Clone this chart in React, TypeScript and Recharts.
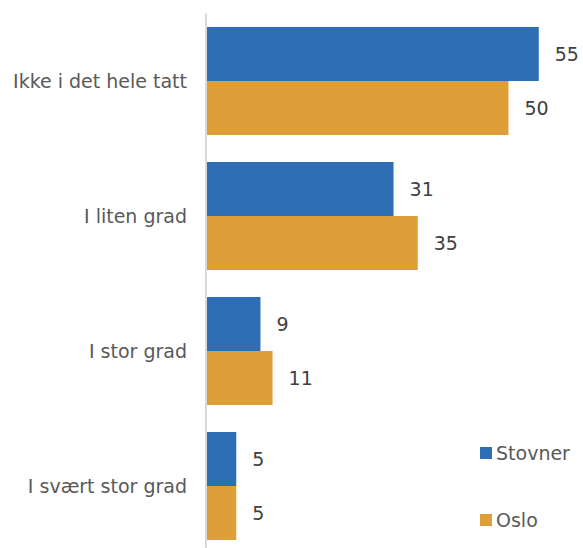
import { Bar, BarChart, LabelList, XAxis, YAxis } from "recharts";

const categories = [
  "Ikke i det hele tatt",
  "I liten grad",
  "I stor grad",
  "I svært stor grad",
];
const stovner = [55, 31, 9, 5];
const oslo = [50, 35, 11, 5];

const BLUE = "#2E6EB5";
const ORANGE = "#DF9F38";
const FONT = "'DejaVu Sans', sans-serif";

const data = categories.map((name, i) => ({
  name,
  Stovner: stovner[i],
  Oslo: oslo[i],
}));

const legendItems = [
  { label: "Stovner", color: BLUE },
  { label: "Oslo", color: ORANGE },
];

export default function App() {
  return (
    <div
      style={{
        position: "fixed",
        left: 0,
        top: 0,
        width: 583,
        height: 548,
        overflow: "hidden",
        background: "#fff",
      }}
    >
      <BarChart
        width={583}
        height={560}
        data={data}
        layout="vertical"
        margin={{ top: 13.5, right: 14, bottom: 6.5, left: 0 }}
        barCategoryGap={13.5}
        barGap={0}
      >
        <XAxis type="number" domain={[0, 60]} hide />
        <YAxis
          type="category"
          dataKey="name"
          width={206}
          tickLine={false}
          axisLine={{ stroke: "#d9d9d9", strokeWidth: 2 }}
          tickMargin={13}
          tick={{ fill: "#595959", fontSize: 19, fontFamily: FONT }}
        />
        <Bar dataKey="Stovner" fill={BLUE} isAnimationActive={false}>
          <LabelList
            dataKey="Stovner"
            position="right"
            offset={16}
            fill="#404040"
            fontSize={19}
            fontFamily={FONT}
          />
        </Bar>
        <Bar dataKey="Oslo" fill={ORANGE} isAnimationActive={false}>
          <LabelList
            dataKey="Oslo"
            position="right"
            offset={16}
            fill="#404040"
            fontSize={19}
            fontFamily={FONT}
          />
        </Bar>
      </BarChart>
      <div
        style={{
          position: "absolute",
          left: 480,
          top: 441,
          fontFamily: FONT,
          fontSize: 19,
          color: "#595959",
        }}
      >
        {legendItems.map((item, i) => (
          <div
            key={item.label}
            style={{
              display: "flex",
              alignItems: "center",
              height: 24,
              marginTop: i === 0 ? 0 : 43,
            }}
          >
            <span
              style={{
                width: 12,
                height: 12,
                background: item.color,
                marginRight: 4,
                display: "inline-block",
              }}
            />
            {item.label}
          </div>
        ))}
      </div>
    </div>
  );
}
